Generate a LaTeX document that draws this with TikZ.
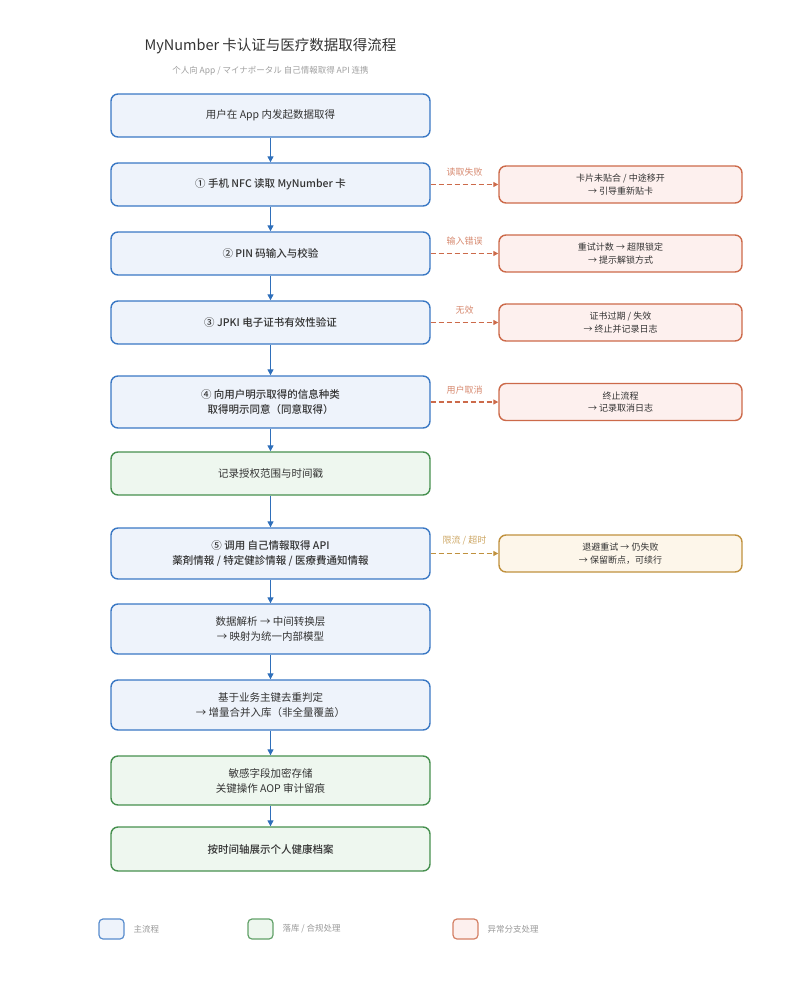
\documentclass[tikz,border=0pt]{standalone}
\usepackage{fontspec}
\setmainfont{Noto Sans CJK SC}
\newfontfamily\medfont{Noto Sans CJK SC}[UprightFont={* Medium}]
\usetikzlibrary{arrows.meta}
\definecolor{bstroke}{HTML}{3A78C4}
\definecolor{bfill}{HTML}{EEF3FB}
\definecolor{gstroke}{HTML}{46904F}
\definecolor{gfill}{HTML}{EEF7EF}
\definecolor{rstroke}{HTML}{CC6A4A}
\definecolor{rfill}{HTML}{FDF0EE}
\definecolor{ostroke}{HTML}{C0913E}
\definecolor{ofill}{HTML}{FDF6EA}
\definecolor{txt}{HTML}{333333}
\definecolor{arrowc}{HTML}{2F6FBA}
\tikzset{
  box/.style={draw, rounded corners=7pt, line width=1.4pt, align=center, text=txt, inner sep=2pt},
  mainbox/.style={box, draw=bstroke, fill=bfill, minimum width=319pt, font=\fontsize{10.5}{15}\selectfont},
  greenbox/.style={box, draw=gstroke, fill=gfill, minimum width=319pt, font=\fontsize{10.5}{15}\selectfont},
  medtext/.style={font=\fontsize{10.5}{15}\medfont},
  errbox/.style={box, draw=rstroke, fill=rfill, minimum width=243pt, minimum height=37pt, font=\fontsize{9}{12.5}\selectfont},
  warnbox/.style={box, draw=ostroke, fill=ofill, minimum width=243pt, minimum height=37pt, font=\fontsize{9}{12.5}\selectfont},
  flow/.style={draw=arrowc, line width=1.3pt, -{Triangle[length=6pt,width=6pt]}},
  errflow/.style={draw=rstroke, line width=1.3pt, dash pattern=on 5pt off 3pt, -{Triangle[length=5pt,width=5pt]}},
  warnflow/.style={draw=ostroke, line width=1.3pt, dash pattern=on 5pt off 3pt, -{Triangle[length=5pt,width=5pt]}},
  lbl/.style={font=\fontsize{9}{10}\selectfont, above=4pt, midway},
  legbox/.style={draw, rounded corners=4pt, line width=1.2pt, minimum width=25pt, minimum height=20pt},
  legtxt/.style={anchor=west, text=gray!80, font=\fontsize{8.5}{10}\selectfont}
}
\begin{document}
\begin{tikzpicture}[x=1pt,y=-1pt]
\useasboundingbox (0,0) rectangle (800,982);
\node[font=\fontsize{14.5}{16}\selectfont, text=txt] (title) at (270.5,46) {MyNumber 卡认证与医疗数据取得流程};
\node[font=\fontsize{8.5}{10}\selectfont, text=gray!75] (sub) at (270.5,71) {个人向 App / マイナポータル 自己情報取得 API 连携};

\node[mainbox, minimum height=43pt] (b0) at (270.5,115.5) {用户在 App 内发起数据取得};
\node[mainbox, medtext, minimum height=43pt] (b1) at (270.5,184.5) {① 手机 NFC 读取 MyNumber 卡};
\node[mainbox, medtext, minimum height=43pt] (b2) at (270.5,253.5) {② PIN 码输入与校验};
\node[mainbox, medtext, minimum height=43pt] (b3) at (270.5,322.5) {③ JPKI 电子证书有效性验证};
\node[mainbox, medtext, minimum height=52pt] (b4) at (270.5,402) {④ 向用户明示取得的信息种类\\取得明示同意（同意取得）};
\node[greenbox, minimum height=43pt] (b5) at (270.5,473.5) {记录授权范围与时间戳};
\node[mainbox, medtext, minimum height=51pt] (b6) at (270.5,553.5) {⑤ 调用 自己情報取得 API\\薬剤情報 / 特定健診情報 / 医療費通知情報};
\node[mainbox, minimum height=50pt] (b7) at (270.5,629) {数据解析 → 中间转换层\\→ 映射为统一内部模型};
\node[mainbox, minimum height=50pt] (b8) at (270.5,705) {基于业务主键去重判定\\→ 增量合并入库（非全量覆盖）};
\node[greenbox, minimum height=49pt] (b9) at (270.5,780.5) {敏感字段加密存储\\关键操作 AOP 审计留痕};
\node[greenbox, medtext, minimum height=44pt] (b10) at (270.5,849) {按时间轴展示个人健康档案};

\node[errbox] (r1) at (620.5,184.5) {卡片未贴合 / 中途移开\\→ 引导重新贴卡};
\node[errbox] (r2) at (620.5,253.5) {重试计数 → 超限锁定\\→ 提示解锁方式};
\node[errbox] (r3) at (620.5,322.5) {证书过期 / 失效\\→ 终止并记录日志};
\node[errbox] (r4) at (620.5,402) {终止流程\\→ 记录取消日志};
\node[warnbox] (r5) at (620.5,553.5) {退避重试 → 仍失败\\→ 保留断点，可续行};

\foreach \a/\b in {b0/b1,b1/b2,b2/b3,b3/b4,b4/b5,b5/b6,b6/b7,b7/b8,b8/b9,b9/b10}
  \draw[flow] (\a) -- (\b);

\draw[errflow] (b1.east) -- (r1.west) node[lbl, text=rstroke!80] {读取失败};
\draw[errflow] (b2.east) -- (r2.west) node[lbl, text=rstroke!80] {输入错误};
\draw[errflow] (b3.east) -- (r3.west) node[lbl, text=rstroke!80] {无效};
\draw[errflow] (b4.east) -- (r4.west) node[lbl, text=rstroke!80] {用户取消};
\draw[warnflow] (b6.east) -- (r5.west) node[lbl, text=ostroke!80] {限流 / 超时};

\node[legbox, draw=bstroke!85, fill=bfill] (l1) at (111.5,929) {};
\node[legtxt] (l1t) at (130,929) {主流程};
\node[legbox, draw=gstroke!85, fill=gfill] (l2) at (260.5,929) {};
\node[legtxt] (l2t) at (279,929) {落库 / 合规处理};
\node[legbox, draw=rstroke!85, fill=rfill] (l3) at (465.5,929) {};
\node[legtxt] (l3t) at (484,929) {异常分支处理};
\end{tikzpicture}
\end{document}
